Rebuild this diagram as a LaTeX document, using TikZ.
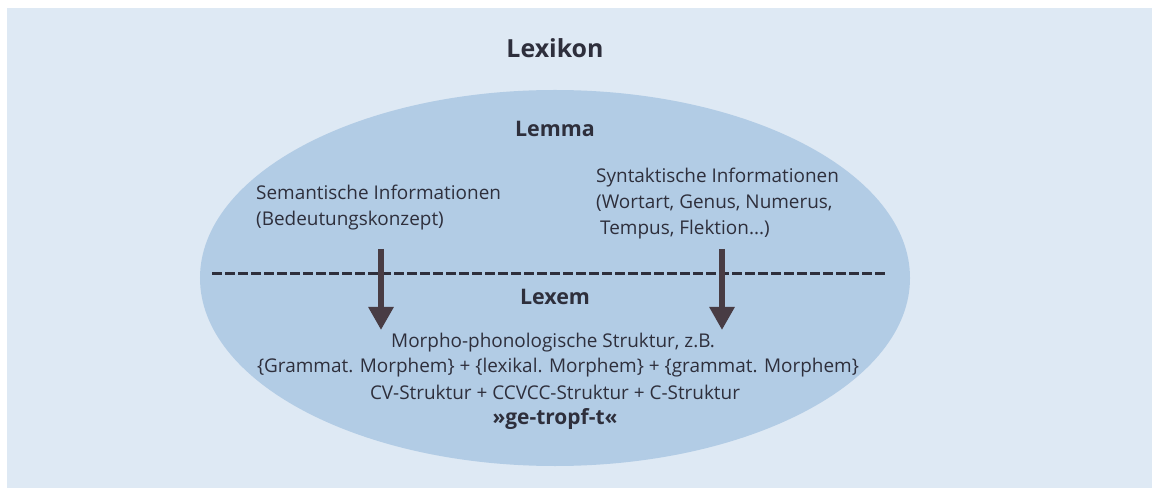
\documentclass[tikz,border=0pt]{standalone}
\usepackage{fontspec}
\setmainfont{Open Sans}
\usetikzlibrary{arrows.meta,shapes.geometric}
\definecolor{paper}{RGB}{222,233,244}
\definecolor{blob}{RGB}{178,204,229}
\definecolor{ink}{RGB}{46,47,60}
\definecolor{arrowc}{RGB}{72,60,68}
\begin{document}
\begin{tikzpicture}[x=1bp,y=-1bp,
  lbl/.style={inner sep=0pt, text=ink, font=\fontsize{19}{22}\selectfont},
  ttl/.style={inner sep=0pt, text=ink, font=\bfseries\fontsize{21.5}{26}\selectfont},
  down/.style={line width=6bp, draw=arrowc, -{Triangle[width=24bp,length=23bp]}},
  sep/.style={line width=3bp, draw=ink, dash pattern=on 10bp off 3bp}]
\fill[paper] (0,0) rectangle (1152,488);
\fill[white] (0,0) rectangle (1152,8);
\fill[white] (0,0) rectangle (7,488);
\useasboundingbox (0,0) rectangle (1152,488);
\node[ellipse, fill=blob, minimum width=710bp, minimum height=376bp, inner sep=0pt] (area) at (555,278) {};
\node[ttl, font=\bfseries\fontsize{25}{30}\selectfont, anchor=base] (lexikon) at (555,58) {Lexikon};
\node[ttl, anchor=base] (lemma) at (555,137) {Lemma};
\node[lbl, anchor=base west] (sem1) at (256,200) {Semantische Informationen};
\node[lbl, anchor=base west] (sem2) at (256,226) {(Bedeutungskonzept)};
\node[lbl, anchor=base west] (syn1) at (596,183) {Syntaktische Informationen};
\node[lbl, anchor=base west] (syn2) at (596,209) {(Wortart, Genus, Numerus,};
\node[lbl, anchor=base west] (syn3) at (600,235) {Tempus, Flektion...)};
\coordinate (sepL) at (212,274);
\coordinate (sepR) at (887,274);
\draw[sep] (sepL) -- (sepR);
\node[ttl, anchor=base] (lexem) at (555,305) {Lexem};
\node[lbl, anchor=base] (mor1) at (553,348) {Morpho-phonologische Struktur, z.B.};
\node[lbl, anchor=base] (mor2) at (558,373) {\{Grammat. Morphem\} + \{lexikal. Morphem\} + \{grammat. Morphem\}};
\node[lbl, anchor=base] (mor3) at (555,399) {CV-Struktur + CCVCC-Struktur + C-Struktur};
\node[lbl, font=\bfseries\fontsize{21}{24}\selectfont, anchor=base] (mor4) at (555,424) {»ge-tropf-t«};
\coordinate (aLs) at (381,249);
\coordinate (aLe) at (381,330);
\coordinate (aRs) at (722,249);
\coordinate (aRe) at (722,330);
\draw[down] (aLs) -- (aLe);
\draw[down] (aRs) -- (aRe);
\end{tikzpicture}
\end{document}
